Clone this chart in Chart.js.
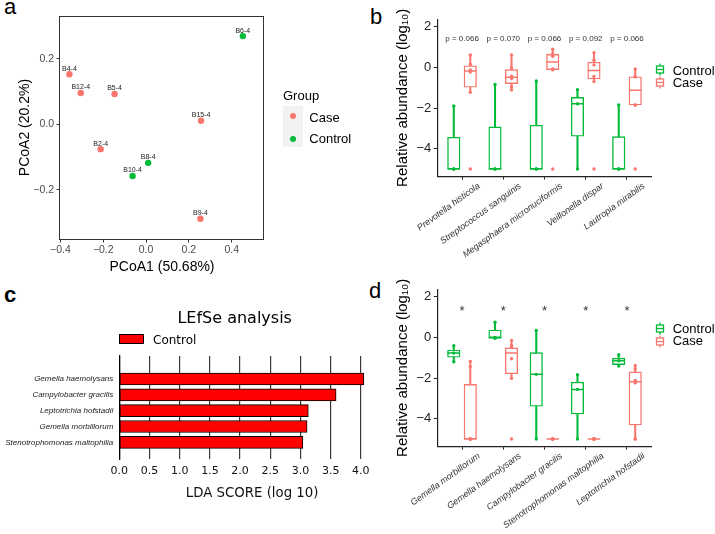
<!DOCTYPE html>
<html>
<head>
<meta charset="utf-8">
<script src="https://cdn.jsdelivr.net/npm/chart.js@4.4.1/dist/chart.umd.min.js"></script>
<style>
  body { margin: 0; width: 715px; height: 534px; background: #fff; position: relative; overflow: hidden;
         font-family: "Liberation Sans", Arial, sans-serif; color: #000; }
  canvas, .txt, .key { position: absolute; }
  .txt { white-space: nowrap; }
  .dv { font-family: "DejaVu Sans", sans-serif; }
</style>
</head>
<body>
<!-- panel letters -->
<div class="txt" style="left:4px;top:-4px;font-size:22px;line-height:22px">a</div>
<div class="txt" style="left:370px;top:6px;font-size:22px;line-height:22px">b</div>
<div class="txt" style="left:4px;top:284px;font-size:22px;line-height:22px;font-weight:bold">c</div>
<div class="txt" style="left:369px;top:280px;font-size:22px;line-height:22px">d</div>

<canvas id="pcoa" width="360" height="280" style="left:0;top:0"></canvas>
<canvas id="boxB" width="355" height="270" style="left:360px;top:0"></canvas>
<canvas id="lefse" width="400" height="264" style="left:0;top:270px"></canvas>
<canvas id="boxD" width="355" height="264" style="left:360px;top:270px"></canvas>

<!-- legend a -->
<div class="txt" style="left:283px;top:87.5px;font-size:13px;line-height:15px">Group</div>
<div class="key" style="left:282.7px;top:106px;width:20.3px;height:41px;background:#f2f2f2"></div>
<div class="key" style="left:290px;top:113px;width:6px;height:6px;border-radius:50%;background:#F8766D"></div>
<div class="key" style="left:290px;top:136px;width:6px;height:6px;border-radius:50%;background:#00BA38"></div>
<div class="txt" style="left:309.3px;top:110.3px;font-size:13px;line-height:15px">Case</div>
<div class="txt" style="left:309.3px;top:131.3px;font-size:13px;line-height:15px">Control</div>

<!-- legend b -->
<svg class="key" style="left:654.5px;top:63px" width="10" height="13"><line x1="5" y1="0.5" x2="5" y2="12.5" stroke="#00BA38" stroke-width="1.3"/><rect x="1.5" y="3" width="7" height="7" fill="#fff" stroke="#00BA38" stroke-width="1.3"/><line x1="1.5" y1="6.5" x2="8.5" y2="6.5" stroke="#00BA38" stroke-width="1.3"/></svg>
<svg class="key" style="left:654.5px;top:76px" width="10" height="13"><line x1="5" y1="0.5" x2="5" y2="12.5" stroke="#F8766D" stroke-width="1.3"/><rect x="1.5" y="3" width="7" height="7" fill="#fff" stroke="#F8766D" stroke-width="1.3"/><line x1="1.5" y1="6.5" x2="8.5" y2="6.5" stroke="#F8766D" stroke-width="1.3"/></svg>
<div class="txt" style="left:672.7px;top:63px;font-size:13px;line-height:15px">Control</div>
<div class="txt" style="left:672.7px;top:74.7px;font-size:13px;line-height:15px">Case</div>

<!-- legend c -->
<div class="txt dv" style="left:134.7px;top:307.7px;width:200px;text-align:center;font-size:16px;line-height:20px">LEfSe analysis</div>
<div class="key" style="left:119.3px;top:334.3px;width:23px;height:8px;background:#ff0000;border:1px solid #000"></div>
<div class="txt dv" style="left:153px;top:332.9px;font-size:12px;line-height:14px">Control</div>

<!-- legend d -->
<svg class="key" style="left:654.5px;top:322px" width="10" height="13"><line x1="5" y1="0.5" x2="5" y2="12.5" stroke="#00BA38" stroke-width="1.3"/><rect x="1.5" y="3" width="7" height="7" fill="#fff" stroke="#00BA38" stroke-width="1.3"/><line x1="1.5" y1="6.5" x2="8.5" y2="6.5" stroke="#00BA38" stroke-width="1.3"/></svg>
<svg class="key" style="left:654.5px;top:334.5px" width="10" height="13"><line x1="5" y1="0.5" x2="5" y2="12.5" stroke="#F8766D" stroke-width="1.3"/><rect x="1.5" y="3" width="7" height="7" fill="#fff" stroke="#F8766D" stroke-width="1.3"/><line x1="1.5" y1="6.5" x2="8.5" y2="6.5" stroke="#F8766D" stroke-width="1.3"/></svg>
<div class="txt" style="left:672.7px;top:321.3px;font-size:13px;line-height:15px">Control</div>
<div class="txt" style="left:672.7px;top:333.3px;font-size:13px;line-height:15px">Case</div>

<script>
// ---- panel a: PCoA ----
const caseSamples = ['B4-4', 'B12-4', 'B5-4', 'B15-4', 'B2-4', 'B9-4'];
const casePC1 = [-0.358, -0.305, -0.147, 0.257, -0.212, 0.254];
const casePC2 = [0.153, 0.096, 0.093, 0.011, -0.076, -0.289];
const ctrlSamples = ['B6-4', 'B8-4', 'B10-4'];
const ctrlPC1 = [0.452, 0.010, -0.063];
const ctrlPC2 = [0.270, -0.118, -0.158];
const pcoaXTicks = [-0.4, -0.2, 0, 0.2, 0.4];
const pcoaYTicks = [-0.2, 0, 0.2];

// ---- panel b: candidate taxa ----
const bTaxa = ['Prevotella histicola', 'Streptococcus sanguinis', 'Megasphaera micronuciformis', 'Veillonella dispar', 'Lautropia mirabilis'];
const bPvalues = ['p = 0.066', 'p = 0.070', 'p = 0.066', 'p = 0.092', 'p = 0.066'];
// box stats: [lower whisker, q1, median, q3, upper whisker]
const bCtrlBox = [[-5, -5, -5, -3.44, -1.90], [-5, -5, -5, -2.93, -0.84], [-5, -5, -5, -2.85, -0.67], [-5, -3.39, -1.79, -1.48, -1.10], [-5, -5, -5, -3.41, -1.85]];
const bCaseBox = [[-1.23, -0.98, -0.18, 0.08, 0.61], [-1.11, -0.80, -0.49, -0.11, 0.61], [-0.11, -0.11, 0.26, 0.64, 0.89], [-0.70, -0.57, -0.16, 0.26, 0.72], [-1.85, -1.85, -1.13, -0.46, -0.08]];
const bCtrlObs = [[-5, -5, -1.90], [-5, -5, -0.84], [-5, -5, -0.67], [-5, -1.79, -1.10], [-5, -5, -1.85]];
const bCaseObs = [[-5, -1.23, -0.23, -0.13, 0.15, 0.61], [-1.11, -0.95, -0.55, -0.43, -0.03, 0.61], [-5, -0.12, -0.08, 0.55, 0.67, 0.89], [-5, -0.70, -0.45, 0.12, 0.35, 0.72], [-5, -1.85, -1.85, -0.46, -0.46, -0.08]];

// ---- panel c: LEfSe ----
const ldaTaxa = ['Gemella haemolysans', 'Campylobacter gracilis', 'Leptotrichia hofstadii', 'Gemella morbillorum', 'Stenotrophomonas maltophilia'];
const ldaScores = [4.05, 3.59, 3.13, 3.11, 3.04];
const ldaTicks = [0, 0.5, 1, 1.5, 2, 2.5, 3, 3.5, 4];

// ---- panel d: LEfSe taxa ----
const dTaxa = ['Gemella morbillorum', 'Gemella haemolysans', 'Campylobacter gracilis', 'Stenotrophomonas maltophilia', 'Leptotrichia hofstadii'];
const dMarks = ['*', '*', '*', '*', '*'];
const dCtrlBox = [[-1.20, -0.98, -0.77, -0.62, -0.41], [-0.05, -0.05, 0.0, 0.36, 0.74], [-5, -3.39, -1.82, -0.75, 0.34], [-5, -3.77, -2.56, -2.20, -1.84], [-1.41, -1.34, -1.15, -1.03, -0.85]];
const dCaseBox = [[-5, -5, -5, -2.31, -1.18], [-2.02, -1.79, -0.77, -0.52, -0.15], [-5, -5, -5, -5, -5], [-5, -5, -5, -5, -5], [-5, -4.31, -2.18, -1.70, -1.38]];
const dCtrlObs = [[-1.20, -0.77, -0.41], [-0.05, 0.0, 0.74], [-5, -1.82, 0.34], [-5, -2.56, -1.84], [-1.41, -1.15, -0.85]];
const dCaseObs = [[-5, -5, -5, -5, -1.44, -1.18], [-5, -2.02, -1.05, -0.50, -0.40, -0.15], [-5, -5, -5, -5, -5, -5], [-5, -5, -5, -5, -5, -5], [-5, -5, -2.24, -2.12, -1.56, -1.38]];

const boxYTicks = [-4, -2, 0, 2];
const markLevel = 1.43;

const caseColor = '#F8766D';
const ctrlColor = '#00BA38';
const sans = '"Liberation Sans", Arial, sans-serif';

Chart.defaults.font.family = sans;
Chart.defaults.color = '#222';
Chart.defaults.animation = false;
Chart.defaults.plugins.legend.display = false;
Chart.defaults.plugins.tooltip.enabled = false;

function minus(v, digits) {
    return (v < -1e-9 ? '\u2212' : '') + Math.abs(v).toFixed(digits);
}

// Draw the sample names above the PCoA points
const pointNames = {
    id: 'pointNames',
    afterDatasetsDraw(chart) {
        const ctx = chart.ctx;
        ctx.save();
        ctx.font = '7px ' + sans;
        ctx.fillStyle = '#222';
        ctx.textAlign = 'center';
        ctx.textBaseline = 'middle';
        chart.data.datasets.forEach((ds, di) => {
            chart.getDatasetMeta(di).data.forEach((pt, i) => {
                ctx.fillText(ds.names[i], pt.x, pt.y - 5.5);
            });
        });
        ctx.restore();
    }
};

// Panel border for the PCoA plot
const frame = {
    id: 'frame',
    afterDraw(chart) {
        const {ctx, chartArea: a} = chart;
        ctx.save();
        ctx.strokeStyle = '#333';
        ctx.lineWidth = 1;
        ctx.strokeRect(Math.round(a.left) - 0.5, Math.round(a.top) + 0.5, Math.round(a.right - a.left), Math.round(a.bottom - a.top));
        ctx.restore();
    }
};

// p values / significance marks above each taxon
const topMarks = {
    id: 'topMarks',
    afterDatasetsDraw(chart, args, opts) {
        const {ctx, scales: {x, y}} = chart;
        ctx.save();
        ctx.font = opts.font;
        ctx.fillStyle = '#333';
        ctx.textAlign = 'center';
        ctx.textBaseline = 'middle';
        opts.labels.forEach((t, i) => {
            ctx.fillText(t, x.getPixelForValue(i + 1), y.getPixelForValue(markLevel) + opts.shift);
        });
        ctx.restore();
    }
};

// Create the PCoA scatter
new Chart(document.getElementById('pcoa'), {
    type: 'scatter',
    data: {
        datasets: [
            { label: 'Case', names: caseSamples, data: casePC1.map((x, i) => ({x: x, y: casePC2[i]})),
              backgroundColor: caseColor, pointRadius: 3.2, pointBorderWidth: 0 },
            { label: 'Control', names: ctrlSamples, data: ctrlPC1.map((x, i) => ({x: x, y: ctrlPC2[i]})),
              backgroundColor: ctrlColor, pointRadius: 3.2, pointBorderWidth: 0 }
        ]
    },
    options: {
        responsive: false,
        devicePixelRatio: 1,
        layout: { padding: { top: 16, right: 96, left: 0, bottom: 0 } },
        scales: {
            x: {
                min: -0.402, max: 0.551,
                afterBuildTicks: s => { s.ticks = pcoaXTicks.map(v => ({value: v})); },
                afterFit: s => { s.height = 41; s.paddingLeft = 0; s.paddingRight = 0; },
                grid: { drawOnChartArea: false, tickLength: 3.5, color: '#333' },
                border: { display: false },
                ticks: { color: '#4d4d4d', font: { size: 10.5 }, padding: 1.5, maxRotation: 0, callback: v => minus(v, 1) },
                title: { display: true, text: 'PCoA1 (50.68%)', color: '#000', font: { size: 14 }, padding: { top: 0, bottom: 4.5 } }
            },
            y: {
                min: -0.351, max: 0.3315,
                afterBuildTicks: s => { s.ticks = pcoaYTicks.map(v => ({value: v})); },
                afterFit: s => { s.width = 60; s.paddingTop = 0; s.paddingBottom = 0; },
                grid: { drawOnChartArea: false, tickLength: 3.5, color: '#333' },
                border: { display: false },
                ticks: { color: '#4d4d4d', font: { size: 10.5 }, padding: 2.5, callback: v => minus(v, 1) },
                title: { display: true, text: 'PCoA2 (20.2%)', color: '#000', font: { size: 14 }, padding: { top: 16.6, bottom: 0 } }
            }
        }
    },
    plugins: [pointNames, frame]
});

// Build a grouped box plot from box stats and observations
function boxChart(canvasId, height, taxa, ctrlBox, caseBox, ctrlObs, caseObs, labels, labelFont, labelShift) {
    const dodge = 0.2;
    const whiskers = (stats, shift, color) => ({
        type: 'bar', order: 3, grouped: false, barThickness: 1.4, backgroundColor: color,
        data: stats.map((s, i) => ({x: i + 1 + shift, y: [s[0], s[4]]}))
    });
    const boxes = (stats, shift, color) => ({
        type: 'bar', order: 2, grouped: false, barThickness: 12.5, backgroundColor: '#fff',
        borderColor: color, borderWidth: 1.4, borderSkipped: false,
        data: stats.map((s, i) => ({x: i + 1 + shift, y: [s[1], s[3]]}))
    });
    const medians = (stats, shift, color) => ({
        type: 'scatter', order: 1, pointStyle: 'line', pointRadius: 6.25,
        pointBorderColor: color, pointBorderWidth: 1.5,
        data: stats.map((s, i) => ({x: i + 1 + shift, y: s[2]}))
    });
    const dots = (obs, shift, color) => ({
        type: 'scatter', order: 0, pointRadius: 1.7, pointBackgroundColor: color, pointBorderWidth: 0,
        data: obs.flatMap((o, i) => o.map(v => ({x: i + 1 + shift, y: v})))
    });

    return new Chart(document.getElementById(canvasId), {
        type: 'bar',
        data: {
            datasets: [
                whiskers(ctrlBox, -dodge, ctrlColor), whiskers(caseBox, dodge, caseColor),
                boxes(ctrlBox, -dodge, ctrlColor), boxes(caseBox, dodge, caseColor),
                medians(ctrlBox, -dodge, ctrlColor), medians(caseBox, dodge, caseColor),
                dots(ctrlObs, -dodge, ctrlColor), dots(caseObs, dodge, caseColor)
            ]
        },
        options: {
            responsive: false,
            devicePixelRatio: 1,
            layout: { padding: { top: 19.6, right: 63.3, left: 0, bottom: 0 } },
            scales: {
                x: {
                    type: 'linear', min: 0.4, max: 5.6, offset: false,
                    afterBuildTicks: s => { s.ticks = taxa.map((t, i) => ({value: i + 1})); },
                    afterFit: s => { s.height = height - 176.1; s.paddingLeft = 0; s.paddingRight = 0; },
                    grid: { offset: false, drawOnChartArea: false, tickLength: 3.5, color: '#222' },
                    border: { color: '#222', width: 1.2 },
                    ticks: { autoSkip: false, minRotation: 36, maxRotation: 36, padding: 1, labelOffset: 17,
                             color: '#333', font: { size: 9, style: 'italic' },
                             callback: v => taxa[Math.round(v) - 1] }
                },
                y: {
                    min: -5.35, max: 2.35,
                    afterBuildTicks: s => { s.ticks = boxYTicks.map(v => ({value: v})); },
                    afterFit: s => { s.width = 77.3; s.paddingTop = 0; s.paddingBottom = 0; },
                    grid: { drawOnChartArea: false, tickLength: 3.5, color: '#222' },
                    border: { color: '#222', width: 1.2 },
                    ticks: { color: '#222', font: { size: 13 }, padding: 2.5, callback: v => minus(v, 0) },
                    title: { display: true, text: 'Relative abundance (log\u2081\u2080)', color: '#000',
                             font: { size: 15 }, padding: { top: 33.7, bottom: 0 } }
                }
            },
            plugins: {
                topMarks: { labels: labels, font: labelFont, shift: labelShift }
            }
        },
        plugins: [topMarks]
    });
}

boxChart('boxB', 270, bTaxa, bCtrlBox, bCaseBox, bCtrlObs, bCaseObs, bPvalues, '8px ' + sans, 0);
boxChart('boxD', 264, dTaxa, dCtrlBox, dCaseBox, dCtrlObs, dCaseObs, dMarks, '13px ' + sans, 3);

// Create the LEfSe bar chart
new Chart(document.getElementById('lefse'), {
    type: 'bar',
    data: {
        datasets: [{
            label: 'Control',
            data: ldaScores.map((v, i) => ({x: v, y: i})),
            backgroundColor: '#ff0000', borderColor: '#000', borderWidth: 1, borderSkipped: false,
            barThickness: 12
        }]
    },
    options: {
        indexAxis: 'y',
        responsive: false,
        devicePixelRatio: 1,
        layout: { padding: { top: 86, right: 15, left: 0, bottom: 0 } },
        scales: {
            x: {
                type: 'linear', min: 0, max: 4.4,
                afterBuildTicks: s => { s.ticks = ldaTicks.map(v => ({value: v})); },
                afterFit: s => { s.height = 74.7; s.paddingLeft = 0; s.paddingRight = 0; },
                grid: { color: '#3a3a3a', lineWidth: 1.2, drawTicks: false },
                border: { display: false },
                ticks: { color: '#111', padding: 5, maxRotation: 0,
                         font: { family: '"DejaVu Sans", sans-serif', size: 11 },
                         callback: v => v.toFixed(1) },
                title: { display: true, text: 'LDA SCORE (log 10)', color: '#111',
                         font: { family: '"DejaVu Sans", sans-serif', size: 13.3 }, padding: { top: 0, bottom: 32 } }
            },
            y: {
                type: 'linear', reverse: true, min: -1.45, max: 5.07, offset: false,
                afterBuildTicks: s => { s.ticks = ldaTaxa.map((t, i) => ({value: i})); },
                afterFit: s => { s.width = 119.3; s.paddingTop = 0; s.paddingBottom = 0; },
                grid: { display: false, offset: false, drawTicks: false },
                border: { color: '#000', width: 1.2 },
                ticks: { color: '#222', padding: 6, font: { size: 8, style: 'italic' },
                         callback: v => ldaTaxa[Math.round(v)] }
            }
        }
    }
});
</script>
</body>
</html>
